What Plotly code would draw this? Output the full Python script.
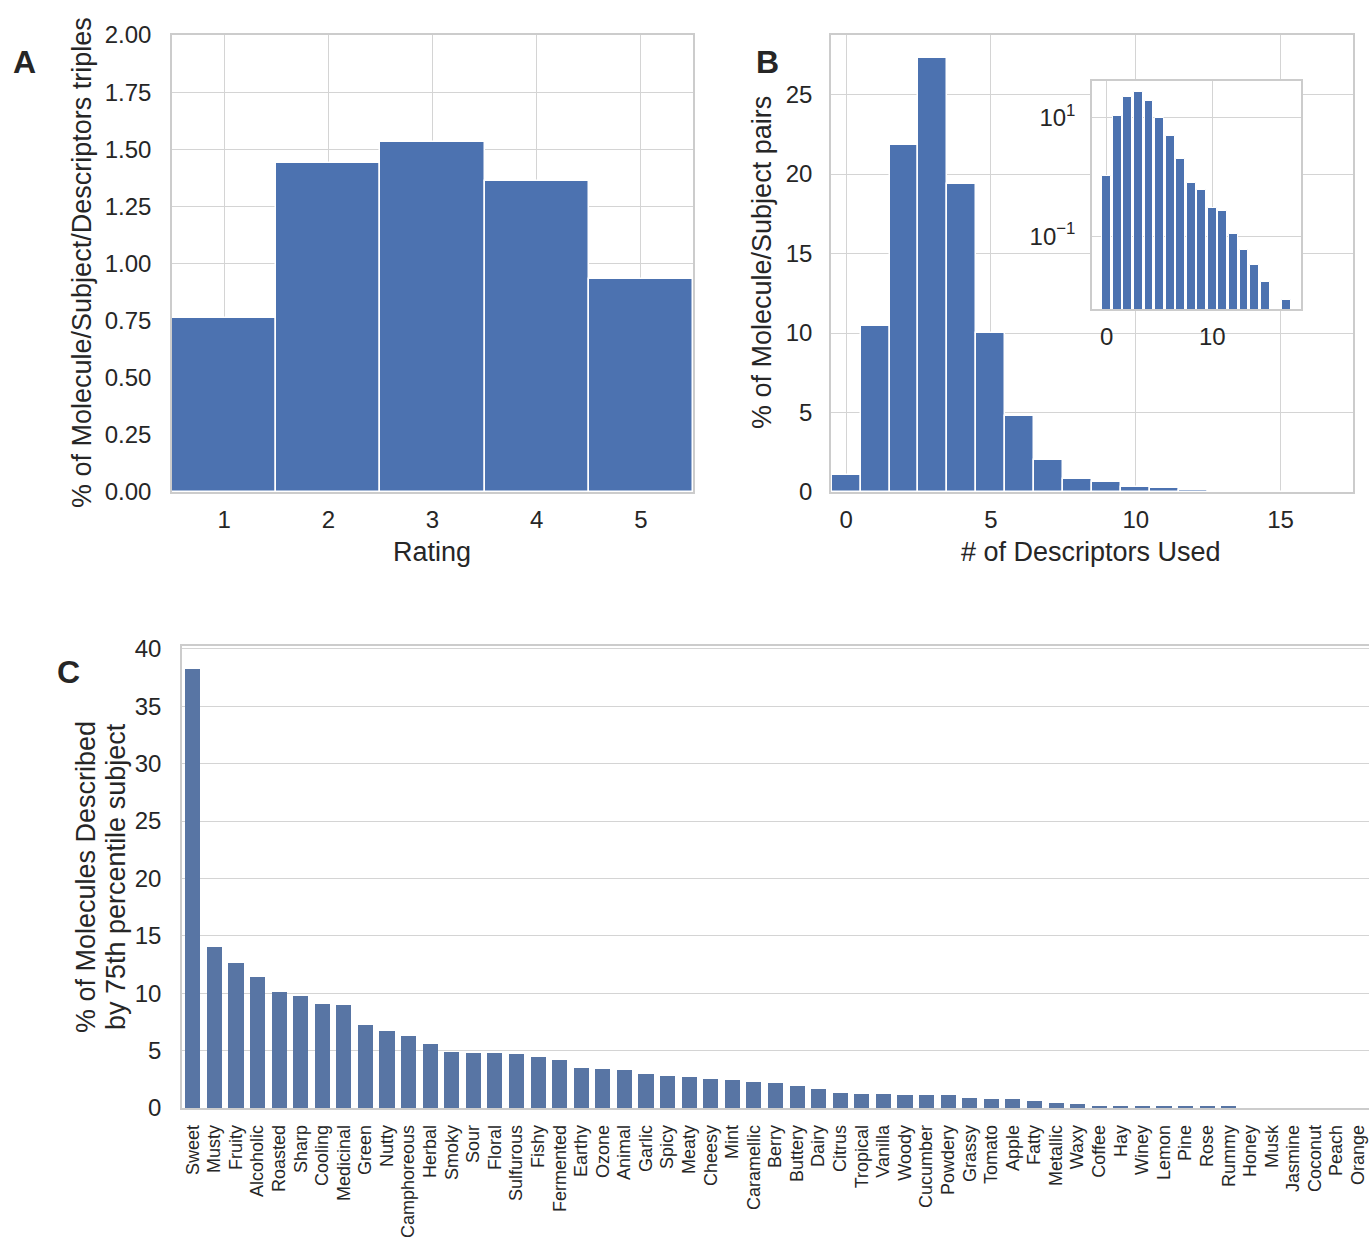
import plotly.graph_objects as go

# ---------------- data ----------------
ratings = [1, 2, 3, 4, 5]
rating_pct = [0.76, 1.44, 1.53, 1.36, 0.93]

n_descriptors = list(range(18))
desc_pct = [1.05, 10.45, 21.85, 27.3, 19.4, 10.0, 4.8, 2.0, 0.8, 0.6,
            0.3, 0.27, 0.108, 0.058, 0.033, 0.0165, 0, 0.0082]

descriptors = ["Sweet", "Musty", "Fruity", "Alcoholic", "Roasted", "Sharp", "Cooling",
               "Medicinal", "Green", "Nutty", "Camphoreous", "Herbal", "Smoky", "Sour",
               "Floral", "Sulfurous", "Fishy", "Fermented", "Earthy", "Ozone", "Animal",
               "Garlic", "Spicy", "Meaty", "Cheesy", "Mint", "Caramellic", "Berry",
               "Buttery", "Dairy", "Citrus", "Tropical", "Vanilla", "Woody", "Cucumber",
               "Powdery", "Grassy", "Tomato", "Apple", "Fatty", "Metallic", "Waxy",
               "Coffee", "Hay", "Winey", "Lemon", "Pine", "Rose", "Rummy", "Honey",
               "Musk", "Jasmine", "Coconut", "Peach", "Orange"]
descriptor_pct = [38.28, 14.03, 12.66, 11.41, 10.10, 9.75, 9.08, 8.96, 7.27, 6.72,
                  6.31, 5.55, 4.85, 4.80, 4.80, 4.71, 4.41, 4.21, 3.52, 3.43,
                  3.34, 2.99, 2.83, 2.70, 2.49, 2.44, 2.29, 2.18, 1.89, 1.62,
                  1.27, 1.18, 1.18, 1.13, 1.13, 1.13, 0.87, 0.78, 0.78, 0.57,
                  0.43, 0.34, 0.2, 0.2, 0.2, 0.2, 0.2, 0.12, 0.12, 0, 0, 0, 0, 0, 0]

# ---------------- style ----------------
W, H = 1369, 1240
BLUE = "#4c72b0"
BLUE_C = "#5875a4"
GRID = "#d4d4d4"
FRAME = "#cccccc"
TXT = "#262626"
FONT = "Liberation Sans, Arial, sans-serif"


def fx(px):
    return px / W


def fy(py):
    return 1 - py / H


fig = go.Figure()

fig.add_trace(go.Bar(x=ratings, y=rating_pct, width=1,
                     marker=dict(color=BLUE, line=dict(color="white", width=1.5)),
                     xaxis="x", yaxis="y"))
fig.add_trace(go.Bar(x=n_descriptors, y=desc_pct, width=1,
                     marker=dict(color=BLUE, line=dict(color="white", width=1.5)),
                     xaxis="x2", yaxis="y2"))
fig.add_trace(go.Bar(x=n_descriptors, y=[v if v > 0 else None for v in desc_pct], width=0.85,
                     marker=dict(color=BLUE, line=dict(color="white", width=1)),
                     xaxis="x3", yaxis="y3"))
fig.add_trace(go.Bar(x=descriptors, y=descriptor_pct, width=0.7,
                     marker=dict(color=BLUE_C, line=dict(width=0)),
                     xaxis="x4", yaxis="y4"))

common = dict(showgrid=True, gridcolor=GRID, gridwidth=1.3, zeroline=False,
              showline=True, linecolor=FRAME, linewidth=1.5, mirror=True,
              ticks="", tickfont=dict(size=24, color=TXT, family=FONT),
              automargin=False, fixedrange=True)

yA = [fy(492), fy(35)]
fig.update_layout(
    width=W, height=H,
    margin=dict(l=0, r=0, t=0, b=0),
    paper_bgcolor="white", plot_bgcolor="white",
    showlegend=False, bargap=0,
    font=dict(family=FONT, color=TXT),
    xaxis=dict(common, domain=[fx(172), fx(693)], range=[0.5, 5.5],
               tickvals=[1, 2, 3, 4, 5], anchor="y", ticklabelstandoff=5),
    yaxis=dict(common, domain=yA, range=[0, 2.0], dtick=0.25, tickformat=".2f",
               anchor="x", ticklabelstandoff=14),
    xaxis2=dict(common, domain=[fx(831), fx(1353)], range=[-0.52, 17.5],
                tickvals=[0, 5, 10, 15], anchor="y2", ticklabelstandoff=5),
    yaxis2=dict(common, domain=yA, range=[0, 28.75], tickvals=[0, 5, 10, 15, 20, 25],
                anchor="x2", ticklabelstandoff=12),
    xaxis3=dict(common, domain=[fx(1092), fx(1301)], range=[-1.4, 18.4],
                tickvals=[0, 10], anchor="y3", ticklabelstandoff=5),
    yaxis3=dict(common, domain=[fy(309), fy(81)], type="log", range=[-2.23, 1.617],
                tickvals=[0.1, 10], ticktext=["10<sup>\u22121</sup>", "10<sup>1</sup>"],
                anchor="x3", ticklabelstandoff=10),
    xaxis4=dict(common, domain=[fx(182), 1.0], range=[-0.5, 54.5], showgrid=False,
                tickmode="array", tickvals=descriptors, ticktext=descriptors,
                tickangle=-90, tickfont=dict(size=18, color=TXT, family=FONT),
                anchor="y4", ticklabelstandoff=8),
    yaxis4=dict(common, domain=[fy(1108), fy(646)], range=[0, 40.25], dtick=5,
                mirror=False, anchor="x4", ticklabelstandoff=14),
)

ann = []


def title(text, x, y, angle=0, size=27):
    ann.append(dict(text=text, x=fx(x), y=fy(y), xref="paper", yref="paper",
                    showarrow=False, textangle=angle, xanchor="center", yanchor="middle",
                    font=dict(size=size, color=TXT, family=FONT)))


title("% of Molecule/Subject/Descriptors triples", 82, 263, -90)
title("Rating", 432, 552)
title("% of Molecule/Subject pairs", 762, 263, -90)
title("# of Descriptors Used", 1091, 552)
title("% of Molecules Described", 86, 877, -90)
title("by 75th percentile subject", 116, 877, -90)
title("<b>A</b>", 25, 62, 0, 32)
title("<b>B</b>", 767, 62, 0, 32)
title("<b>C</b>", 68, 672, 0, 32)
fig.update_layout(annotations=ann)

fig.write_html("out.html", post_script="document.body.style.margin='0';",
               config={"displayModeBar": False})
